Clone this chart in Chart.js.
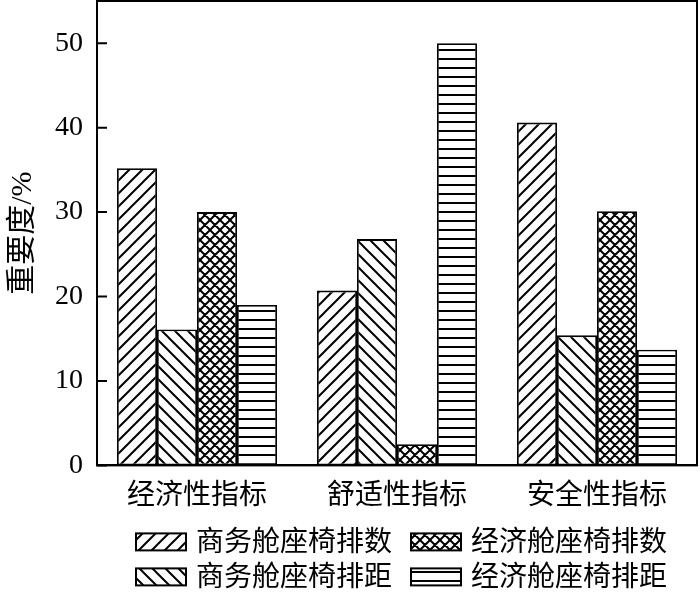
<!DOCTYPE html>
<html>
<head>
<meta charset="utf-8">
<script src="https://cdn.jsdelivr.net/npm/chart.js@4.4.0/dist/chart.umd.min.js"></script>
<style>
  html, body { margin: 0; padding: 0; background: #fff; }
  #wrap { width: 700px; height: 597px; }
</style>
</head>
<body>
<div id="wrap"><canvas id="chart"></canvas></div>
<script>
// data
const categories = ['经济性指标', '舒适性指标', '安全性指标'];
const seriesNames = ['商务舱座椅排数', '商务舱座椅排距', '经济舱座椅排数', '经济舱座椅排距'];
const bizRows = [35.2, 20.7, 40.6];
const bizPitch = [16.1, 26.8, 15.4];
const ecoRows = [30.0, 2.5, 30.1];
const ecoPitch = [19.0, 50.0, 13.7];
const yTicks = [0, 10, 20, 30, 40, 50];
const legendOrder = [0, 2, 1, 3];

const family = "'Liberation Serif', 'Noto Sans CJK SC', serif";

// hatch patterns
function makePattern(kind) {
    const size = { fwd: 13, back: 13, cross: 10, horiz: 9 }[kind];
    const c = document.createElement('canvas');
    c.width = size; c.height = size;
    const g = c.getContext('2d');
    g.fillStyle = '#fff';
    g.fillRect(0, 0, size, size);
    g.strokeStyle = '#000';
    g.lineWidth = 2;
    g.beginPath();
    if (kind === 'fwd' || kind === 'cross') {
        [-size, 0, size].forEach(o => { g.moveTo(o - 1, size + 1); g.lineTo(o + size + 1, -1); });
    }
    if (kind === 'back' || kind === 'cross') {
        [-size, 0, size].forEach(o => { g.moveTo(o - 1, -1); g.lineTo(o + size + 1, size + 1); });
    }
    if (kind === 'horiz') {
        g.moveTo(0, Math.round(size / 2)); g.lineTo(size, Math.round(size / 2));
    }
    g.stroke();
    return g.createPattern(c, 'repeat');
}

const patterns = [makePattern('fwd'), makePattern('back'), makePattern('cross'), makePattern('horiz')];
const values = [bizRows, bizPitch, ecoRows, ecoPitch];

const datasets = seriesNames.map((name, i) => ({
    label: name,
    data: values[i],
    backgroundColor: patterns[i],
    borderColor: '#000',
    borderWidth: 1.8,
    borderSkipped: false
}));

// frame, inward ticks and the two-row legend
const framePlugin = {
    id: 'frame',
    afterDraw(chart) {
        const { ctx, chartArea: a, scales: { y } } = chart;
        ctx.save();
        ctx.strokeStyle = '#000';
        ctx.lineWidth = 2;
        ctx.strokeRect(a.left, a.top, a.right - a.left, a.bottom - a.top);
        ctx.beginPath();
        yTicks.forEach(v => {
            const py = y.getPixelForValue(v);
            ctx.moveTo(a.left, py);
            ctx.lineTo(a.left + 10, py);
        });
        ctx.stroke();

        // legend
        ctx.font = '28px ' + family;
        ctx.textBaseline = 'middle';
        legendOrder.forEach((di, k) => {
            const ds = chart.data.datasets[di];
            const col = k % 2, row = Math.floor(k / 2);
            const x = a.left + 39 + col * 275;
            const yc = a.bottom + 76 + row * 35;
            ctx.fillStyle = ds.backgroundColor;
            ctx.fillRect(x, yc - 8, 50, 17);
            ctx.lineWidth = 2;
            ctx.strokeRect(x, yc - 8, 50, 17);
            ctx.fillStyle = '#000';
            ctx.fillText(ds.label, x + 60, yc + 2);
        });
        ctx.restore();
    }
};

new Chart(document.getElementById('chart'), {
    type: 'bar',
    data: { labels: categories, datasets: datasets },
    options: {
        responsive: true,
        maintainAspectRatio: false,
        animation: false,
        layout: { padding: { top: 1, right: 3, left: 5, bottom: 70 } },
        datasets: { bar: { categoryPercentage: 0.8, barPercentage: 1.0 } },
        plugins: {
            legend: { display: false },
            tooltip: { enabled: false }
        },
        scales: {
            x: {
                grid: { display: false, drawTicks: false },
                border: { color: '#000', width: 2 },
                ticks: { font: { size: 28, family: family }, color: '#000', padding: 14 }
            },
            y: {
                min: 0,
                max: 55,
                afterBuildTicks: s => { s.ticks = yTicks.map(v => ({ value: v })); },
                afterFit: s => { s.paddingTop = 0; s.paddingBottom = 0; },
                grid: { display: false, drawTicks: false },
                border: { color: '#000', width: 2 },
                ticks: { font: { size: 28, family: family }, color: '#000', padding: 14 },
                title: {
                    display: true,
                    text: '重要度/%',
                    font: { size: 30, family: family },
                    color: '#000',
                    padding: { top: 0, bottom: 0 }
                }
            }
        }
    },
    plugins: [framePlugin]
});
</script>
</body>
</html>
